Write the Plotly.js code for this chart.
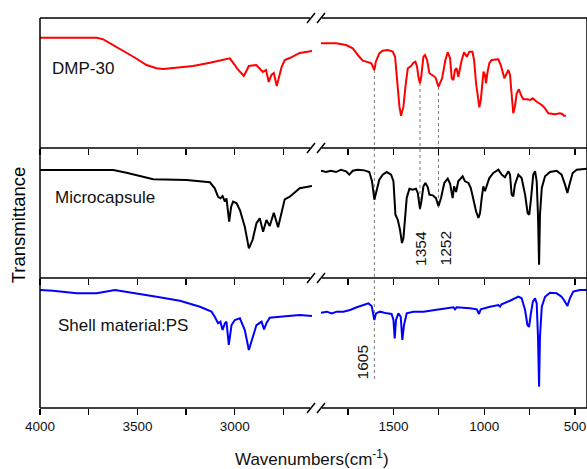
<!DOCTYPE html>
<html>
<head>
<meta charset="utf-8">
<script src="https://cdn.plot.ly/plotly-3.0.1.min.js"></script>
<style>
  html, body { margin: 0; padding: 0; background: #fff; }
  #chart { width: 587px; height: 469px; }
</style>
</head>
<body>
<div id="chart"></div>
<script>
// FTIR spectra (transmittance, arbitrary units per panel) on a broken wavenumber axis.

// DMP-30, high-wavenumber segment
const dmpHiWn = [4000, 3800, 3709, 3675, 3607, 3521, 3453, 3402, 3368, 3299, 3214, 3128, 3026, 3000, 2990, 2954, 2928, 2890, 2856, 2840, 2826, 2812, 2800, 2785, 2760, 2744, 2718, 2667, 2604];
const dmpHiT  = [84.8, 84.8, 84.8, 83.6, 77.9, 70.2, 63.8, 61.3, 60.8, 61.8, 63.1, 65.6, 69.0, 63.8, 61.5, 55.4, 63.1, 63.8, 58.5, 60.0, 50.8, 56.2, 57.7, 47.7, 62.3, 67.7, 69.2, 73.1, 74.6];
// DMP-30, fingerprint segment
const dmpLoWn = [1899, 1816, 1761, 1724, 1688, 1669, 1636, 1622, 1605, 1597, 1578, 1560, 1531, 1504, 1491, 1480, 1467, 1458, 1445, 1434, 1421, 1403, 1390, 1379, 1370, 1361, 1354, 1347, 1335, 1326, 1315, 1302, 1284, 1269, 1252, 1232, 1214, 1201, 1188, 1179, 1170, 1161, 1152, 1143, 1124, 1111, 1096, 1082, 1065, 1056, 1045, 1032, 1027, 1019, 1010, 1004, 996, 990, 983, 972, 959, 922, 909, 898, 889, 876, 867, 858, 849, 840, 831, 821, 809, 798, 785, 763, 748, 733, 711, 683, 665, 647, 610, 583, 570, 561, 550];
const dmpLoT  = [80.5, 80.5, 79.2, 76.7, 70.2, 67.2, 65.9, 65.2, 60.0, 66.4, 72.8, 74.8, 75.4, 74.1, 70.2, 52.3, 31.8, 24.8, 31.8, 47.2, 61.3, 63.1, 65.6, 66.4, 62.5, 53.6, 49.8, 54.8, 70.2, 71.5, 67.7, 57.5, 55.4, 54.4, 47.2, 53.6, 67.7, 73.6, 69.0, 53.6, 52.3, 60.0, 61.3, 54.8, 67.7, 73.6, 70.2, 74.1, 74.1, 67.7, 49.8, 34.4, 31.3, 36.9, 52.3, 58.7, 56.2, 49.8, 57.5, 65.2, 67.7, 68.2, 63.8, 57.5, 53.6, 57.5, 60.0, 56.2, 42.1, 26.7, 31.8, 42.1, 45.2, 40.8, 37.5, 37.5, 36.9, 38.2, 35.6, 33.1, 30.5, 26.7, 25.9, 26.7, 26.2, 24.8, 24.8];

// Microcapsule
const capHiWn = [4000, 3624, 3556, 3487, 3419, 3248, 3128, 3103, 3086, 3074, 3063, 3051, 3043, 3029, 3019, 3009, 2991, 2974, 2949, 2928, 2909, 2889, 2872, 2855, 2838, 2821, 2800, 2778, 2761, 2744, 2718, 2667, 2604];
const capHiT  = [83.1, 83.1, 81.0, 78.5, 75.9, 75.4, 73.6, 69.0, 62.5, 61.3, 63.1, 58.7, 61.3, 43.3, 54.8, 58.7, 57.5, 52.3, 39.5, 22.8, 29.2, 42.1, 45.9, 35.6, 44.6, 40.0, 50.2, 39.0, 49.8, 60.5, 62.5, 69.0, 70.8];
const capLoWn = [1899, 1871, 1844, 1816, 1789, 1761, 1743, 1724, 1697, 1660, 1633, 1618, 1605, 1592, 1578, 1559, 1537, 1513, 1500, 1489, 1476, 1464, 1453, 1445, 1436, 1427, 1412, 1394, 1376, 1366, 1354, 1346, 1335, 1324, 1311, 1302, 1284, 1266, 1252, 1238, 1220, 1201, 1188, 1179, 1174, 1166, 1155, 1143, 1133, 1119, 1106, 1087, 1074, 1060, 1045, 1032, 1023, 1014, 1005, 996, 986, 972, 950, 922, 904, 886, 867, 858, 849, 840, 831, 812, 794, 775, 761, 752, 742, 730, 720, 711, 704, 698, 693, 683, 665, 638, 601, 574, 555, 542, 531, 513, 491, 434];
const capLoT  = [82.5, 81.5, 82.5, 81.5, 83.3, 82.1, 79.5, 82.5, 83.3, 82.8, 81.5, 74.4, 60.2, 66.7, 75.6, 79.5, 81.5, 79.5, 74.4, 48.7, 44.8, 37.2, 26.9, 30.8, 48.7, 61.5, 68.7, 67.9, 68.7, 65.4, 53.3, 59.0, 70.5, 73.1, 69.8, 64.1, 63.6, 61.5, 55.2, 61.5, 73.1, 76.4, 72.5, 66.7, 61.5, 70.5, 66.2, 74.4, 76.4, 78.2, 74.4, 73.1, 69.2, 60.2, 51.3, 46.2, 50.0, 61.5, 70.5, 66.7, 71.8, 76.9, 80.8, 83.3, 79.5, 77.5, 82.1, 79.5, 64.1, 62.8, 71.8, 79.5, 76.9, 64.1, 50.0, 48.7, 61.5, 79.5, 82.1, 74.4, 48.7, 10.2, 48.7, 69.2, 78.2, 81.5, 82.5, 79.5, 71.8, 65.4, 71.8, 80.8, 83.3, 84.1];

// Shell material: polystyrene
const psHiWn = [4000, 3932, 3812, 3709, 3615, 3521, 3402, 3282, 3179, 3120, 3103, 3086, 3074, 3063, 3051, 3043, 3031, 3017, 3000, 2974, 2949, 2928, 2909, 2889, 2863, 2850, 2838, 2821, 2769, 2667, 2604];
const psHiT  = [90.8, 90.2, 88.2, 88.2, 90.8, 88.7, 85.6, 82.5, 77.9, 74.1, 70.2, 65.2, 66.4, 60.0, 65.2, 66.4, 48.5, 63.8, 67.7, 69.0, 60.0, 44.6, 53.6, 63.8, 66.4, 60.5, 65.2, 69.5, 70.2, 71.5, 70.8];
const psLoWn = [1899, 1867, 1840, 1812, 1776, 1739, 1702, 1666, 1638, 1620, 1605, 1596, 1574, 1537, 1510, 1500, 1493, 1486, 1473, 1460, 1451, 1442, 1427, 1390, 1335, 1244, 1170, 1161, 1152, 1078, 1041, 1029, 1019, 968, 922, 913, 904, 858, 812, 794, 775, 762, 753, 743, 732, 720, 711, 704, 698, 693, 683, 665, 638, 601, 574, 555, 542, 528, 510, 473, 434];
const psLoT  = [73.3, 74.1, 72.8, 74.1, 74.1, 75.4, 77.5, 79.2, 80.5, 78.5, 67.7, 72.8, 74.1, 72.8, 72.3, 67.7, 53.6, 67.7, 72.8, 70.2, 52.3, 63.8, 72.8, 74.1, 74.1, 75.9, 77.5, 75.9, 77.5, 76.7, 75.9, 72.3, 75.9, 77.9, 79.2, 77.9, 79.8, 82.5, 85.6, 84.4, 75.4, 63.8, 62.5, 72.8, 81.8, 84.4, 80.5, 54.8, 16.4, 54.8, 77.9, 85.6, 88.7, 88.2, 85.6, 81.8, 78.5, 84.4, 89.5, 90.8, 90.8];

const sampleNames = ['DMP-30', 'Microcapsule', 'Shell material:PS'];
const sampleColors = ['#ff0000', '#000000', '#0000ff'];

// Marked bands
const bandWn = [1605, 1354, 1252];
const bandText = ['1605', '1354', '1252'];

// Labelled (major) and unlabelled (minor) ticks for the two axis segments
const hiTickVals = [4000, 3500, 3000];
const hiTickText = ['4000', '3500', '3000'];
const hiMinorVals = [3750, 3250, 2750];
const loTickVals = [1500, 1000, 500];
const loTickText = ['1500', '1000', '500'];
const loMinorVals = [1750, 1250, 750];

const xTitle = 'Wavenumbers(cm<sup>-1</sup>)';
const yTitle = 'Transmittance';

// ---- layout geometry ----
const W = 587, H = 469;
const M = { l: 40, r: 0, t: 18, b: 61 };
const PW = W - M.l - M.r, PH = H - M.t - M.b;
const px = x => (x - M.l) / PW;          // page x -> paper
const py = y => (H - M.b - y) / PH;      // page y -> paper
const splitL = px(312), splitR = px(321);
const hiRange = [4000, 2604];
const loRange = [1899, 434];

const series = [
  [dmpHiWn, dmpHiT, dmpLoWn, dmpLoT],
  [capHiWn, capHiT, capLoWn, capLoT],
  [psHiWn, psHiT, psLoWn, psLoT]
];

const font = 'Liberation Sans, Arial, sans-serif';
const txt = '#111111';
const traces = [];
const layout = {
  width: W, height: H,
  margin: M,
  paper_bgcolor: '#fff', plot_bgcolor: 'rgba(0,0,0,0)',
  showlegend: false,
  font: { family: font, color: txt },
  shapes: [], annotations: []
};

series.forEach((s, p) => {
  const xa = 2 * p + 1, xb = 2 * p + 2, ya = p + 1;
  const yDom = [(2 - p) / 3, (3 - p) / 3];
  const xKeyA = 'xaxis' + (xa === 1 ? '' : xa), xKeyB = 'xaxis' + xb;
  const yKey = 'yaxis' + (ya === 1 ? '' : ya);
  const yRef = 'y' + (ya === 1 ? '' : ya);
  const last = p === 2;
  const common = {
    ticks: 'outside', ticklen: 6, tickwidth: 1.3, tickcolor: '#000',
    showline: false, showgrid: false, zeroline: false,
    showticklabels: last, tickmode: 'array',
    tickfont: { size: 13.5, color: txt, family: font },
    anchor: yRef, fixedrange: true
  };
  const minor = { ticks: 'outside', ticklen: 6, tickwidth: 1.3, tickcolor: '#000', showgrid: false, tickmode: 'array' };
  layout[xKeyA] = Object.assign({}, common, {
    domain: [0, splitL], range: hiRange, tickvals: hiTickVals, ticktext: hiTickText,
    minor: Object.assign({}, minor, { tickvals: hiMinorVals })
  });
  layout[xKeyB] = Object.assign({}, common, {
    domain: [splitR, 1], range: loRange, tickvals: loTickVals, ticktext: loTickText,
    minor: Object.assign({}, minor, { tickvals: loMinorVals })
  });
  layout[yKey] = {
    domain: yDom, range: [0, 100], anchor: 'x' + (xa === 1 ? '' : xa),
    showline: false, showgrid: false, zeroline: false, showticklabels: false, ticks: '', fixedrange: true
  };
  const line = { color: sampleColors[p], width: 2 };
  traces.push({ type: 'scatter', mode: 'lines', x: s[0], y: s[1], xaxis: 'x' + (xa === 1 ? '' : xa), yaxis: yRef, line, hoverinfo: 'skip' });
  traces.push({ type: 'scatter', mode: 'lines', x: s[2], y: s[3], xaxis: 'x' + xb, yaxis: yRef, line, hoverinfo: 'skip' });
});

// Shared vertical title carried by an otherwise bare axis spanning the middle of the stack
layout.yaxis4 = {
  domain: [py(290), py(160)], anchor: 'free', position: 0,
  showline: false, showgrid: false, zeroline: false, showticklabels: false, ticks: '', fixedrange: true,
  title: { text: yTitle, standoff: 8, font: { size: 18.5, color: '#000000', family: font } }
};
traces.push({ type: 'scatter', mode: 'lines', x: [], y: [], xaxis: 'x3', yaxis: 'y4', hoverinfo: 'skip', showlegend: false });

// Frame: spines, horizontal panel borders with axis-break marks
const frame = { color: '#000', width: 1.5 };
layout.shapes.push({ type: 'line', xref: 'paper', yref: 'paper', x0: 0, x1: 0, y0: 0, y1: 1, line: frame });
layout.shapes.push({ type: 'line', xref: 'paper', yref: 'paper', x0: 1, x1: 1, y0: 0, y1: 1, line: frame });
[18, 148, 278, 408].forEach(yy => {
  layout.shapes.push({ type: 'line', xref: 'paper', yref: 'paper', x0: 0, x1: px(310), y0: py(yy), y1: py(yy), line: frame });
  layout.shapes.push({ type: 'line', xref: 'paper', yref: 'paper', x0: px(322), x1: 1, y0: py(yy), y1: py(yy), line: frame });
  [307, 317].forEach(xx => {
    layout.shapes.push({ type: 'line', xref: 'paper', yref: 'paper', x0: px(xx), x1: px(xx + 8), y0: py(yy + 5), y1: py(yy - 5), line: { color: '#000', width: 1.5 } });
  });
});

// Dotted guides through the marked bands
const guideTop = [70, 83, 87], guideBottom = [382, 210, 208];
bandWn.forEach((wn, i) => {
  layout.shapes.push({
    type: 'line', xref: 'x2', yref: 'paper', x0: wn, x1: wn,
    y0: py(guideTop[i]), y1: py(guideBottom[i]),
    line: { color: '#7a7a7a', width: 1, dash: 'dot' }, layer: 'below'
  });
});

// Band labels
const bandAxis = ['x6', 'x4', 'x4'];
const bandY = [362, 248, 248];
const bandShift = [-12, 0, 7];
bandWn.forEach((wn, i) => {
  layout.annotations.push({
    x: wn, xref: bandAxis[i], y: py(bandY[i]), yref: 'paper',
    text: bandText[i], textangle: -90, showarrow: false, xshift: bandShift[i],
    xanchor: 'center', yanchor: 'middle', font: { size: 15.5, color: txt, family: font }
  });
});

// Sample names
const nameX = [50, 53, 56], nameY = [68, 197, 325];
sampleNames.forEach((n, i) => {
  layout.annotations.push({
    x: px(nameX[i]), xref: 'paper', y: py(nameY[i]), yref: 'paper',
    text: n, showarrow: false, xanchor: 'left', yanchor: 'middle',
    font: { size: 17, color: txt, family: font }
  });
});

// Horizontal axis title
layout.annotations.push({
  x: px(311.5), xref: 'paper', y: py(458), yref: 'paper', text: xTitle, showarrow: false,
  xanchor: 'center', yanchor: 'middle', font: { size: 17, color: txt, family: font }
});

Plotly.newPlot('chart', traces, layout, { staticPlot: true, displayModeBar: false });
</script>
</body>
</html>
